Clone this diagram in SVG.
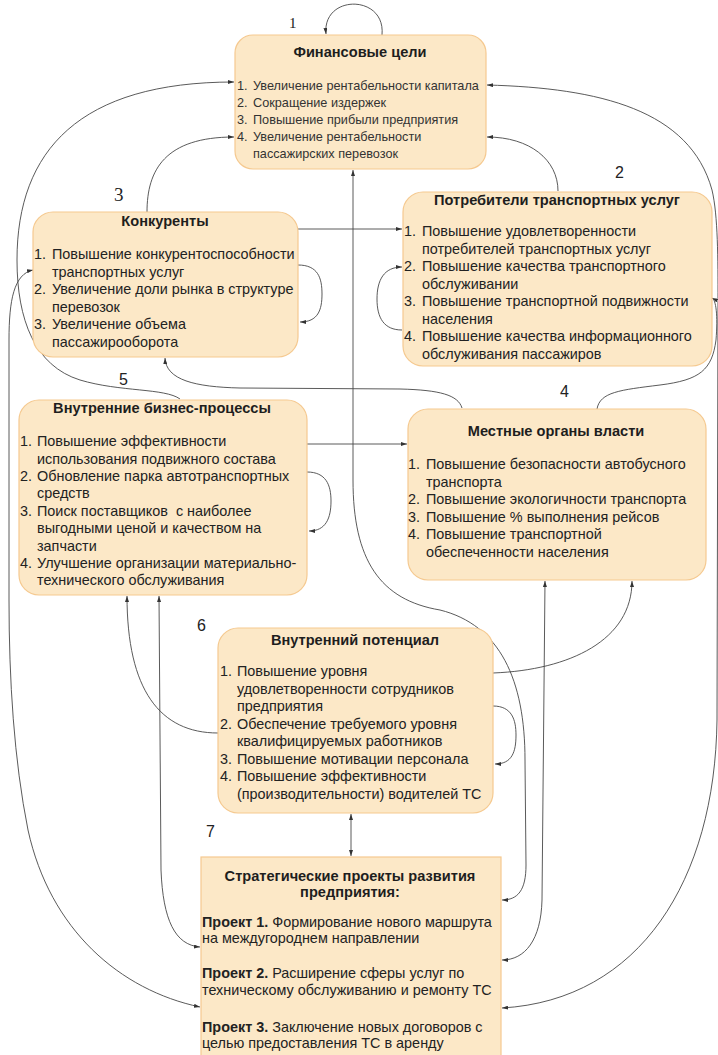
<svg xmlns="http://www.w3.org/2000/svg" width="718" height="1055" viewBox="0 0 718 1055">
  <defs>
    <marker id="ah" viewBox="0 0 6 4" refX="6" refY="2" markerWidth="6" markerHeight="4" markerUnits="userSpaceOnUse" orient="auto-start-reverse">
      <path d="M0,0 L6,2 L0,4 z" fill="#333"/>
    </marker>
    <style>
      .box { fill: #fce8c7; stroke: #f5c990; stroke-width: 1.2; }
      .title { font-family: "Liberation Sans", Arial, sans-serif; font-weight: bold; font-size: 14.6px; fill: #1e1e1e; text-anchor: middle; }
      .item { font-family: "Liberation Sans", Arial, sans-serif; font-size: 14.4px; fill: #222; }
      .small { font-family: "Liberation Sans", Arial, sans-serif; font-size: 12.7px; fill: #333; }
      .num { font-family: "Liberation Sans", Arial, sans-serif; font-size: 16px; fill: #222; }
      .numserif { font-family: "Liberation Serif", "Times New Roman", serif; fill: #222; }
      .b { font-weight: bold; }
      .conn path { fill: none; stroke: #474747; stroke-width: 0.9; }
      .end { marker-end: url(#ah); }
      .both { marker-start: url(#ah); marker-end: url(#ah); }
    </style>
  </defs>
  <rect width="718" height="1055" fill="#ffffff"/>

  <!-- connectors -->
  <g id="connectors" class="conn">
    <!-- self loops -->
    <path class="end" d="M382,35 C386,-6 322,-6 326,34"/>
    <path class="end" d="M298,265 C318,265 322,278 322,294 C322,310 318,322 300,322"/>
    <path class="end" d="M402,330 C384,330 377,318 377,299 C377,280 384,267 402,267"/>
    <path class="end" d="M307,472 C326,472 331,485 331,501 C331,518 326,531 309,531"/>
    <path class="end" d="M493,706 C512,706 516,720 516,735 C516,752 512,764 495,764"/>
    <!-- into Финансовые цели -->
    <path class="end" d="M147,212 C147,170 165,137 234,137"/>
    <path class="end" d="M180,399 C165,388 120,392 80,380 C35,366 17,320 17,260 C17,150 80,82 234,82"/>
    <path class="end" d="M558,191 C558,160 530,137 487,137"/>
    <!-- between upper nodes -->
    <path class="end" d="M298,229 L402,229"/>
    <path class="end" d="M307,444 L407,444"/>
    <path class="end" d="M462,408 C458,395 440,390 400,389 L240,388 C195,387 166,380 165,358"/>
    <path class="end" d="M597,409 C600,392 620,390 660,385 C700,380 712,370 716,340 C718,315 716,300 712,298"/>
    <!-- Внутренний потенциал -->
    <path class="end" d="M218,733 C160,733 127,690 127,596"/>
    <path class="end" d="M493,673 C570,670 632,640 632,581"/>
    <path class="both" d="M351,814 L351,856"/>
    <!-- into Стратегические проекты -->
    <path class="both" d="M33,270 C14,274 9,300 9,340 L9,600 C9,680 14,760 28,830 C50,930 120,990 200,1007"/>
    <path class="both" d="M159,596 L161,870 C163,920 175,945 200,947"/>
    <path class="both" d="M353,170 L353,480 C353,560 380,600 440,610 C500,625 525,680 525,760 L526,865 C526,890 518,900 502,900"/>
    <path class="both" d="M545,581 L542,900 C541,940 525,960 502,960"/>
    <path class="both" d="M487,85 C600,88 690,110 712,190 C718,215 718,260 718,300 L717,720 C715,880 640,1000 502,1008"/>
  </g>

  <!-- step numbers -->
  <text class="numserif" x="289" y="28" font-size="15">1</text>
  <text class="num" x="615" y="178" font-size="15">2</text>
  <text class="numserif" x="114" y="201" font-size="19">3</text>
  <text class="num" x="560" y="397" font-size="17">4</text>
  <text class="num" x="119" y="385" font-size="17">5</text>
  <text class="num" x="197" y="631" font-size="16">6</text>
  <text class="num" x="206" y="837" font-size="17">7</text>

  <!-- 1 -->
  <g id="node-finance">
    <rect class="box" x="235" y="35" width="251" height="134" rx="18"/>
    <text class="title" x="360" y="57">Финансовые цели</text>
    <text class="small" y="90"><tspan x="237">1.</tspan><tspan x="253">Увеличение рентабельности капитала</tspan></text>
    <text class="small" y="107"><tspan x="237">2.</tspan><tspan x="253">Сокращение издержек</tspan></text>
    <text class="small" y="124"><tspan x="237">3.</tspan><tspan x="253">Повышение прибыли предприятия</tspan></text>
    <text class="small" y="141"><tspan x="237">4.</tspan><tspan x="253">Увеличение рентабельности</tspan></text>
    <text class="small" x="253" y="158">пассажирских перевозок</text>
  </g>

  <!-- 2 -->
  <g id="node-customers">
    <rect class="box" x="403" y="192" width="309" height="174" rx="20"/>
    <text class="title" x="557" y="205">Потребители транспортных услуг</text>
    <text class="item" y="236"><tspan x="404">1.</tspan><tspan x="422">Повышение удовлетворенности</tspan></text>
    <text class="item" x="422" y="253.5">потребителей транспортных услуг</text>
    <text class="item" y="271"><tspan x="404">2.</tspan><tspan x="422">Повышение качества транспортного</tspan></text>
    <text class="item" x="422" y="288.5">обслуживании</text>
    <text class="item" y="306"><tspan x="404">3.</tspan><tspan x="422">Повышение транспортной подвижности</tspan></text>
    <text class="item" x="422" y="323.5">населения</text>
    <text class="item" y="341"><tspan x="404">4.</tspan><tspan x="422">Повышение качества информационного</tspan></text>
    <text class="item" x="422" y="358.5">обслуживания пассажиров</text>
  </g>

  <!-- 3 -->
  <g id="node-competitors">
    <rect class="box" x="33" y="212" width="265" height="145" rx="20"/>
    <text class="title" x="165" y="226">Конкуренты</text>
    <text class="item" y="259"><tspan x="34">1.</tspan><tspan x="52">Повышение конкурентоспособности</tspan></text>
    <text class="item" x="52" y="276.5">транспортных услуг</text>
    <text class="item" y="294"><tspan x="34">2.</tspan><tspan x="52">Увеличение доли рынка в структуре</tspan></text>
    <text class="item" x="52" y="311.5">перевозок</text>
    <text class="item" y="329"><tspan x="34">3.</tspan><tspan x="52">Увеличение объема</tspan></text>
    <text class="item" x="52" y="346.5">пассажирооборота</text>
  </g>

  <!-- 4 -->
  <g id="node-authorities">
    <rect class="box" x="408" y="409" width="298" height="171" rx="20"/>
    <text class="title" x="556" y="436">Местные органы власти</text>
    <text class="item" y="469"><tspan x="408">1.</tspan><tspan x="426">Повышение безопасности автобусного</tspan></text>
    <text class="item" x="426" y="486.5">транспорта</text>
    <text class="item" y="504"><tspan x="408">2.</tspan><tspan x="426">Повышение экологичности транспорта</tspan></text>
    <text class="item" y="521.5"><tspan x="408">3.</tspan><tspan x="426">Повышение % выполнения рейсов</tspan></text>
    <text class="item" y="539"><tspan x="408">4.</tspan><tspan x="426">Повышение транспортной</tspan></text>
    <text class="item" x="426" y="556.5">обеспеченности населения</text>
  </g>

  <!-- 5 -->
  <g id="node-processes">
    <rect class="box" x="19" y="400" width="288" height="195" rx="20"/>
    <text class="title" x="162" y="413">Внутренние бизнес-процессы</text>
    <text class="item" y="446"><tspan x="20">1.</tspan><tspan x="37">Повышение эффективности</tspan></text>
    <text class="item" x="37" y="463.5">использования подвижного состава</text>
    <text class="item" y="481"><tspan x="20">2.</tspan><tspan x="37">Обновление парка автотранспортных</tspan></text>
    <text class="item" x="37" y="498">средств</text>
    <text class="item" y="516" style="white-space:pre"><tspan x="20">3.</tspan><tspan x="37">Поиск поставщиков  с наиболее</tspan></text>
    <text class="item" x="37" y="533">выгодными ценой и качеством на</text>
    <text class="item" x="37" y="551">запчасти</text>
    <text class="item" y="568"><tspan x="20">4.</tspan><tspan x="37">Улучшение организации материально-</tspan></text>
    <text class="item" x="37" y="585">технического обслуживания</text>
  </g>

  <!-- 6 -->
  <g id="node-potential">
    <rect class="box" x="218" y="628" width="275" height="185" rx="20"/>
    <text class="title" x="355" y="645">Внутренний потенциал</text>
    <text class="item" y="676"><tspan x="220">1.</tspan><tspan x="237">Повышение уровня</tspan></text>
    <text class="item" x="237" y="693.5">удовлетворенности сотрудников</text>
    <text class="item" x="237" y="711">предприятия</text>
    <text class="item" y="728.5"><tspan x="220">2.</tspan><tspan x="237">Обеспечение требуемого уровня</tspan></text>
    <text class="item" x="237" y="746">квалифицируемых работников</text>
    <text class="item" y="763.5"><tspan x="220">3.</tspan><tspan x="237">Повышение мотивации персонала</tspan></text>
    <text class="item" y="781"><tspan x="220">4.</tspan><tspan x="237">Повышение эффективности</tspan></text>
    <text class="item" x="237" y="798.5">(производительности) водителей ТС</text>
  </g>

  <!-- 7 -->
  <g id="node-projects">
    <rect class="box" x="201" y="857" width="300" height="215" rx="0"/>
    <text class="title" x="350" y="881">Стратегические проекты развития</text>
    <text class="title" x="350" y="897">предприятия:</text>
    <text class="item" x="202" y="927"><tspan class="b">Проект 1.</tspan> Формирование нового маршрута</text>
    <text class="item" x="202" y="943">на междугороднем направлении</text>
    <text class="item" x="202" y="978"><tspan class="b">Проект 2.</tspan> Расширение сферы услуг по</text>
    <text class="item" x="202" y="995">техническому обслуживанию и ремонту ТС</text>
    <text class="item" x="202" y="1032"><tspan class="b">Проект 3.</tspan> Заключение новых договоров с</text>
    <text class="item" x="202" y="1048">целью предоставления ТС в аренду</text>
  </g>
</svg>
